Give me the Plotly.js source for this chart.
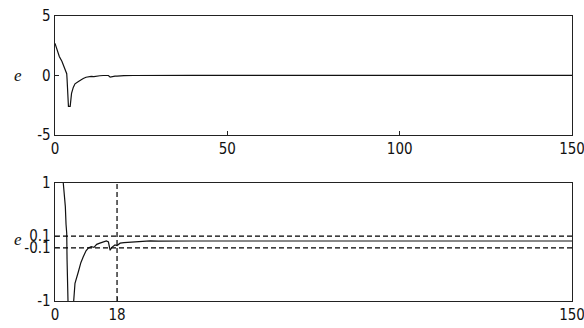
<!DOCTYPE html>
<html>
<head>
<meta charset="utf-8">
<script src="https://cdn.plot.ly/plotly-3.0.1.min.js"></script>
<style>html,body{margin:0;padding:0;background:#fff;}#chart{width:584px;height:328px;}</style>
</head>
<body>
<div id="chart"></div>
<script>
// error signal e(t)
var time = [0, 0.5, 1.25, 2.0, 2.2, 2.4, 3.0, 3.2, 3.4, 3.5, 3.7, 3.9, 4.4, 4.8, 5.3, 5.8, 6.8, 7.5, 8.2, 9.0, 9.7, 10.5, 11.3, 12.1, 13, 14, 14.9, 15.5, 16, 16.5, 17.4, 18, 18.9, 20, 22.7, 25, 27.6, 30, 40, 150];
var errorE = [2.7, 2.3, 1.6, 1.2, 1.05, 1.0, 0.6, 0.3, 0.15, -0.3, -1.2, -2.6, -2.6, -1.5, -1.0, -0.7, -0.5, -0.35, -0.25, -0.15, -0.1, -0.08, -0.09, -0.04, -0.02, 0.0, 0.02, 0.0, -0.14, -0.09, -0.05, -0.06, -0.02, -0.01, 0.0, 0.01, 0.02, 0.015, 0.017, 0.017];
var thresholds = [0.1, -0.1];
var markTime = 18;
var xRange = [0, 150];
var topYTicks = [-5, 0, 5];
var topYLabels = ['-5', '0', '5'];
var topXTicks = [0, 50, 100, 150];
var botYTicks = [-1, -0.1, 0.1, 1];
var botYLabels = ['-1', '-0.1', '0.1', '1'];
var botXTicks = [0, 18, 150];

var traces = [];
traces.push({x: time, y: errorE, xaxis: 'x2', yaxis: 'y2', mode: 'lines',
  line: {color: '#111', width: 1.2}, hoverinfo: 'skip'});
traces.push({x: time, y: errorE, xaxis: 'x', yaxis: 'y', mode: 'lines',
  line: {color: '#111', width: 1.2}, hoverinfo: 'skip'});
thresholds.forEach(function(v){
  traces.push({x: xRange, y: [v, v], xaxis: 'x', yaxis: 'y', mode: 'lines',
    line: {color: '#000', width: 1.2, dash: '5px,3px'}, hoverinfo: 'skip'});
});
traces.push({x: [markTime, markTime], y: [-1, 1], xaxis: 'x', yaxis: 'y', mode: 'lines',
  line: {color: '#000', width: 1.2, dash: '5px,3px'}, hoverinfo: 'skip'});

var tickFont = {family: '"DejaVu Sans Condensed", "Liberation Sans Narrow", "Liberation Sans", Arial, sans-serif', size: 15, color: '#111'};
var axBase = {showgrid: false, zeroline: false, showline: true, linecolor: '#222', linewidth: 1.3,
  mirror: true, ticks: 'inside', ticklen: 4, tickcolor: '#222', tickwidth: 1, tickfont: tickFont,
  ticklabeloverflow: 'allow', fixedrange: true};

var layout = {
  width: 584, height: 328,
  margin: {l: 55, r: 12, t: 16, b: 27},
  paper_bgcolor: '#fff', plot_bgcolor: '#fff',
  showlegend: false,
  xaxis: Object.assign({}, axBase, {domain: [0, 1], range: xRange, anchor: 'y', tickmode: 'array', tickvals: botXTicks}),
  yaxis: Object.assign({}, axBase, {domain: [0, 0.414], range: [-1, 1], anchor: 'x', tickmode: 'array', tickvals: botYTicks, ticktext: botYLabels}),
  xaxis2: Object.assign({}, axBase, {domain: [0, 1], range: xRange, anchor: 'y2', tickmode: 'array', tickvals: topXTicks}),
  yaxis2: Object.assign({}, axBase, {domain: [0.5825, 1], range: [-5, 5], anchor: 'x2', tickmode: 'array', tickvals: topYTicks, ticktext: topYLabels}),
  annotations: [
    {text: 'e', xref: 'paper', yref: 'paper', x: -0.072, y: 0.7912, xanchor: 'center', yanchor: 'middle', showarrow: false,
     font: {family: '"Liberation Serif", "Times New Roman", serif', size: 17, color: '#111', style: 'italic'}},
    {text: 'e', xref: 'paper', yref: 'paper', x: -0.072, y: 0.215, xanchor: 'center', yanchor: 'middle', showarrow: false,
     font: {family: '"Liberation Serif", "Times New Roman", serif', size: 17, color: '#111', style: 'italic'}},
    {text: 'time', xref: 'paper', yref: 'paper', x: 0.47, y: -0.085, xanchor: 'center', yanchor: 'top', showarrow: false,
     font: {family: '"Liberation Serif", "Times New Roman", serif', size: 15, color: '#111', style: 'italic'}}
  ]
};

Plotly.newPlot('chart', traces, layout, {staticPlot: true, displayModeBar: false});
</script>
</body>
</html>
